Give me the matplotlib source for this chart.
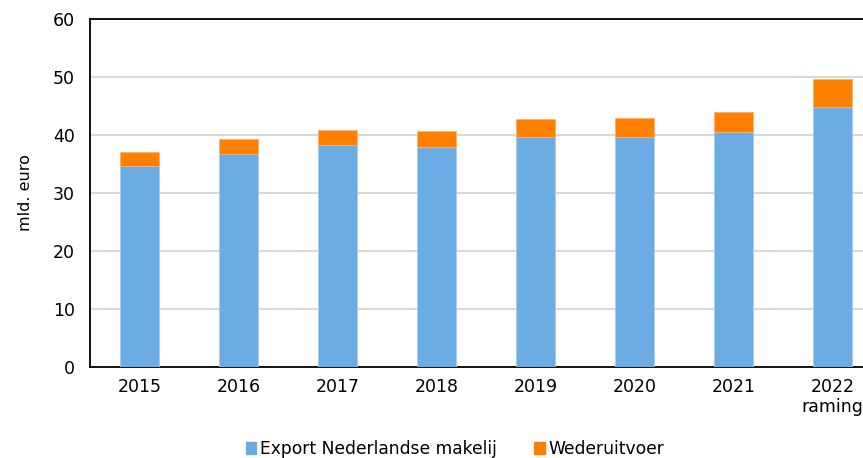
import numpy as np
import matplotlib
matplotlib.use("Agg")
import matplotlib.pyplot as plt
from matplotlib.patches import Patch

# ---- data (mld. euro) ----
jaren = ["2015", "2016", "2017", "2018", "2019", "2020", "2021", "2022\nraming"]
export_nl = [34.7, 36.8, 38.3, 38.0, 39.6, 39.7, 40.5, 44.8]
wederuitvoer = [2.3, 2.5, 2.6, 2.7, 3.1, 3.3, 3.5, 4.8]

KLEUR_NL = "#6aace3"
KLEUR_WU = "#ff7f00"

plt.rcParams['font.family'] = ['DejaVu Sans']

fig = plt.figure(figsize=(8.63, 4.58), dpi=100)
ax = fig.add_axes([90 / 863, 1 - 367 / 458, 792 / 863, (367 - 19) / 458])

x = np.arange(len(jaren))
ax.bar(x, export_nl, width=0.4, color=KLEUR_NL, edgecolor="#a8cdef", linewidth=0.6, zorder=3)
ax.bar(x, wederuitvoer, width=0.4, bottom=export_nl, color=KLEUR_WU,
       edgecolor="#ffb070", linewidth=0.6, zorder=3)

ax.set_xlim(-0.5, len(jaren) - 0.5)
ax.set_ylim(0, 60)
ax.set_yticks(range(0, 61, 10))
ax.set_xticks(x)
ax.set_xticklabels(jaren, fontsize=12.5, linespacing=1.15)
ax.tick_params(axis='y', labelsize=12.5, length=0, pad=11)
ax.tick_params(axis='x', length=0, pad=8)
ax.grid(axis='y', color="#d9d9d9", linewidth=1.5, zorder=0)
for s in ax.spines.values():
    s.set_color("black")
    s.set_linewidth(1.3)
ax.set_ylabel("mld. euro", fontsize=11.5, labelpad=14)

handles = [Patch(color=KLEUR_NL), Patch(color=KLEUR_WU)]
fig.legend(handles, ["Export Nederlandse makelij", "Wederuitvoer"], loc="center",
           bbox_to_anchor=(455 / 863, 1 - 449 / 458), ncol=2, frameon=False,
           fontsize=12.3, handlelength=0.6, handleheight=0.7, handletextpad=0.2,
           columnspacing=2.2)

fig.savefig("out.png", dpi=100)
